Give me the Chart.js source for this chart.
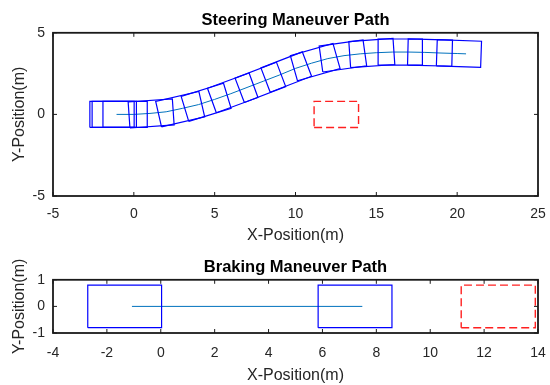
<!DOCTYPE html>
<html>
<head>
<meta charset="utf-8">
<script src="https://cdn.jsdelivr.net/npm/chart.js@4.4.1/dist/chart.umd.min.js"></script>
<style>
  html, body { margin: 0; padding: 0; background: #fff; }
  #wrap { position: relative; width: 550px; height: 385px; }
  canvas { position: absolute; left: 0; }
</style>
</head>
<body>
<div id="wrap">
  <canvas id="steer-chart" width="550" height="250" style="top:0"></canvas>
  <canvas id="brake-chart" width="550" height="135" style="top:250px"></canvas>
</div>
<script>
// reference-point trace of the steering run (m)
const steerPathX = [-1.07, 0, 1, 2, 3, 4, 5, 6, 7, 8, 9, 10, 11, 12, 13, 14, 15, 16, 17, 18, 19, 20, 20.55];
const steerPathY = [0, 0, 0.06, 0.16, 0.37, 0.6, 0.92, 1.27, 1.65, 2.03, 2.41, 2.82, 3.14, 3.42, 3.6, 3.71, 3.78, 3.82, 3.82, 3.8, 3.76, 3.73, 3.71];

// sampled vehicle poses along the steering run
const steerPoseX = [-1.08, -0.94, -0.27, 1.34, 3.13, 4.73, 6.37, 8.08, 9.68, 11.48, 13.2, 14.99, 16.75, 18.59, 20.38];
const steerPoseY = [0, 0, 0, 0.08, 0.38, 0.82, 1.41, 2.06, 2.69, 3.28, 3.62, 3.78, 3.82, 3.78, 3.72];
const steerPoseYaw = [0, 0, 0, 4, 13, 17, 20, 21, 21, 16, 8, 4, 0, -1.5, -2];

// braking run
const brakePathX = [-1.07, 7.48];
const brakePathY = [0, 0];
const brakePoseX = [-1.07, 7.48];
const brakePoseY = [0, 0];
const brakePoseYaw = [0, 0];

// obstacle outline
const obstacleX = [11.15, 13.9];
const obstacleY = [-0.8, 0.8];

// vehicle footprint about the reference point (m)
const carRear = 1.64;
const carFront = 1.1;
const carHalfWidth = 0.8;

const steerTicksX = { min: -5, max: 25, step: 5 };
const steerTicksY = { min: -5, max: 5, step: 5 };
const brakeTicksX = { min: -4, max: 14, step: 2 };
const brakeTicksY = { min: -1, max: 1, step: 1 };

const FONT = "'Liberation Sans', Arial, Helvetica, sans-serif";
const TEXT = "#262626";

function footprint(x, y, yawDeg) {
  const a = (yawDeg * Math.PI) / 180;
  const c = Math.cos(a);
  const s = Math.sin(a);
  const corners = [
    [-carRear, -carHalfWidth], [carFront, -carHalfWidth],
    [carFront, carHalfWidth], [-carRear, carHalfWidth], [-carRear, -carHalfWidth],
  ];
  return corners.map(([u, v]) => ({ x: x + u * c - v * s, y: y + u * s + v * c }));
}

function obstacleOutline() {
  const [x0, x1] = obstacleX;
  const [y0, y1] = obstacleY;
  return [{ x: x0, y: y0 }, { x: x1, y: y0 }, { x: x1, y: y1 }, { x: x0, y: y1 }, { x: x0, y: y0 }];
}

function buildDatasets(pathX, pathY, poseX, poseY, poseYaw) {
  const cars = poseX.map((x, i) => ({
    data: footprint(x, poseY[i], poseYaw[i]),
    borderColor: "#0000ff",
    borderWidth: 1.2,
    showLine: true,
    pointRadius: 0,
  }));
  const path = {
    data: pathX.map((x, i) => ({ x, y: pathY[i] })),
    borderColor: "#0072bd",
    borderWidth: 1,
    showLine: true,
    pointRadius: 0,
  };
  const obstacle = {
    data: obstacleOutline(),
    borderColor: "#ff2020",
    borderWidth: 1.4,
    borderDash: [8, 4],
    showLine: true,
    pointRadius: 0,
  };
  return [...cars, path, obstacle];
}

// closed axes box with inward tick marks
const boxFrame = {
  id: "boxFrame",
  afterDraw(chart) {
    const { ctx, chartArea: a, scales } = chart;
    const tick = 4;
    ctx.save();
    ctx.strokeStyle = "#1a1a1a";
    ctx.lineWidth = 1;
    ctx.beginPath();
    scales.x.ticks.forEach((t) => {
      const px = scales.x.getPixelForValue(t.value);
      ctx.moveTo(px, a.bottom); ctx.lineTo(px, a.bottom - tick);
      ctx.moveTo(px, a.top); ctx.lineTo(px, a.top + tick);
    });
    scales.y.ticks.forEach((t) => {
      const py = scales.y.getPixelForValue(t.value);
      ctx.moveTo(a.left, py); ctx.lineTo(a.left + tick, py);
      ctx.moveTo(a.right, py); ctx.lineTo(a.right - tick, py);
    });
    ctx.stroke();
    ctx.lineWidth = 1.8;
    ctx.strokeRect(a.left, a.top, a.right - a.left, a.bottom - a.top);
    ctx.restore();
  },
};

function renderPathChart(id, opts) {
  const ctx = document.getElementById(id).getContext("2d");
  return new Chart(ctx, {
    type: "scatter",
    data: { datasets: opts.datasets },
    options: {
      responsive: false,
      animation: false,
      layout: { padding: { left: 0, right: 12, top: 0, bottom: 0 } },
      plugins: {
        legend: { display: false },
        tooltip: { enabled: false },
        title: {
          display: true,
          fullSize: false,
          text: opts.title,
          color: "#000",
          font: { family: FONT, size: 16.5, weight: "bold", lineHeight: 1.2 },
          padding: opts.titlePadding,
        },
      },
      scales: {
        x: {
          type: "linear",
          min: opts.ticksX.min,
          max: opts.ticksX.max,
          ticks: { stepSize: opts.ticksX.step, color: TEXT, font: { family: FONT, size: 14 }, padding: opts.xTickPadding, maxRotation: 0 },
          grid: { display: false, drawTicks: false },
          border: { display: false },
          title: {
            display: true,
            text: "X-Position(m)",
            color: TEXT,
            font: { family: FONT, size: 16, lineHeight: 1.2 },
            padding: { top: 0, bottom: opts.xTitleBottom },
          },
          afterFit: (s) => {
            s.height = opts.xAxisHeight;
            s.paddingLeft = 0;
            s.paddingRight = 0;
          },
        },
        y: {
          type: "linear",
          min: opts.ticksY.min,
          max: opts.ticksY.max,
          ticks: { stepSize: opts.ticksY.step, color: TEXT, font: { family: FONT, size: 14 }, padding: 8 },
          grid: { display: false, drawTicks: false },
          border: { display: false },
          title: {
            display: true,
            text: "Y-Position(m)",
            color: TEXT,
            font: { family: FONT, size: 16, lineHeight: 1.2 },
            padding: { top: 10, bottom: 0 },
          },
          afterFit: (s) => {
            s.width = 53;
            s.paddingTop = 0;
            s.paddingBottom = 0;
          },
        },
      },
    },
    plugins: [boxFrame],
  });
}

renderPathChart("steer-chart", {
  title: "Steering Maneuver Path",
  titlePadding: { top: 11, bottom: 2 },
  datasets: buildDatasets(steerPathX, steerPathY, steerPoseX, steerPoseY, steerPoseYaw),
  ticksX: steerTicksX,
  ticksY: steerTicksY,
  xAxisHeight: 54,
  xTickPadding: 10,
  xTitleBottom: 5,
});

renderPathChart("brake-chart", {
  title: "Braking Maneuver Path",
  titlePadding: { top: 8, bottom: 2 },
  datasets: buildDatasets(brakePathX, brakePathY, brakePoseX, brakePoseY, brakePoseYaw),
  ticksX: brakeTicksX,
  ticksY: brakeTicksY,
  xAxisHeight: 52,
  xTickPadding: 12,
  xTitleBottom: 0,
});
</script>
</body>
</html>
